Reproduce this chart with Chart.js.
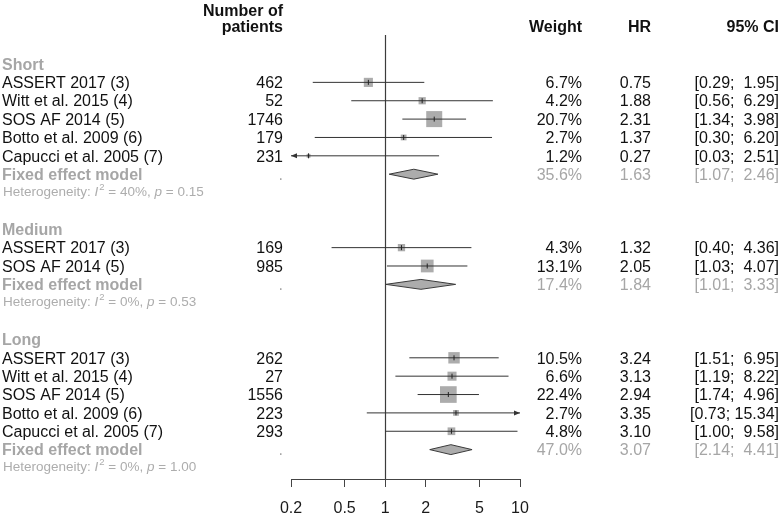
<!DOCTYPE html>
<html>
<head>
<meta charset="utf-8">
<script src="https://cdn.jsdelivr.net/npm/chart.js@4.4.1/dist/chart.umd.min.js"></script>
<style>
  html, body { margin: 0; padding: 0; background: #ffffff; }
  canvas { display: block; }
</style>
</head>
<body>
<canvas id="c" width="782" height="517"></canvas>
<script>
// ---------------- data ----------------
const groups = ['Short', 'Medium', 'Long'];
const studyNames = ['ASSERT 2017 (3)', 'Witt et al. 2015 (4)', 'SOS AF 2014 (5)', 'Botto et al. 2009 (6)', 'Capucci et al. 2005 (7)',
                    'ASSERT 2017 (3)', 'SOS AF 2014 (5)',
                    'ASSERT 2017 (3)', 'Witt et al. 2015 (4)', 'SOS AF 2014 (5)', 'Botto et al. 2009 (6)', 'Capucci et al. 2005 (7)'];
const studyGroup = [0, 0, 0, 0, 0, 1, 1, 2, 2, 2, 2, 2];
const patients = [462, 52, 1746, 179, 231, 169, 985, 262, 27, 1556, 223, 293];
const weights = [6.7, 4.2, 20.7, 2.7, 1.2, 4.3, 13.1, 10.5, 6.6, 22.4, 2.7, 4.8];
const hr = [0.75, 1.88, 2.31, 1.37, 0.27, 1.32, 2.05, 3.24, 3.13, 2.94, 3.35, 3.10];
const ciLow = [0.29, 0.56, 1.34, 0.30, 0.03, 0.40, 1.03, 1.51, 1.19, 1.74, 0.73, 1.00];
const ciHigh = [1.95, 6.29, 3.98, 6.20, 2.51, 4.36, 4.07, 6.95, 8.22, 4.96, 15.34, 9.58];
const pooledLabel = 'Fixed effect model';
const pooledWeight = [35.6, 17.4, 47.0];
const pooledHR = [1.63, 1.84, 3.07];
const pooledLow = [1.07, 1.01, 2.14];
const pooledHigh = [2.46, 3.33, 4.41];
const hetI2 = ['40%', '0%', '0%'];
const hetP = ['0.15', '0.53', '1.00'];
const xTicks = [0.2, 0.5, 1, 2, 5, 10];
const headers = { n: ['Number of', 'patients'], weight: 'Weight', hr: 'HR', ci: '95% CI' };

// ---------------- row layout ----------------
const groupRow = [], studyRow = [], pooledRow = [], hetRow = [];
let r = 0;
groups.forEach((g, gi) => {
  groupRow[gi] = r++;
  studyGroup.forEach((sg, si) => { if (sg === gi) studyRow[si] = r++; });
  pooledRow[gi] = r++;
  hetRow[gi] = r++;
  r++;
});

// ---------------- styles ----------------
const FONT = '"Liberation Sans", Arial, Helvetica, sans-serif';
const BLACK = '#111111';
const GREY = '#a6a6a6';
const HETGREY = '#adadad';
const BOXGREY = '#acacac';
const LINE = '#333333';
const DIAMOND_H = 0.27; // half-height in row units
const BOX_K = 3.52;     // px side per sqrt(weight)

const fmt2 = v => v.toFixed(2);
const padL = (s, n) => ' '.repeat(Math.max(0, n - s.length)) + s;
const ciText = (lo, hi) => '[' + fmt2(lo) + '; ' + padL(fmt2(hi), 5) + ']';

// ---------------- datasets ----------------
const datasets = [];
// CI lines
studyNames.forEach((nm, i) => {
  datasets.push({
    type: 'scatter', showLine: true, order: 1,
    data: [{ x: ciLow[i], y: studyRow[i] }, { x: ciHigh[i], y: studyRow[i] }],
    borderColor: LINE, borderWidth: 1, pointRadius: 0, fill: false
  });
});
// squares
datasets.push({
  type: 'scatter', order: 2,
  data: hr.map((v, i) => ({ x: v, y: studyRow[i] })),
  pointStyle: 'rect',
  pointRadius: weights.map(w => BOX_K * Math.sqrt(w) / (2 * Math.SQRT1_2)),
  backgroundColor: BOXGREY, borderWidth: 0
});
// estimate ticks
datasets.push({
  type: 'scatter', order: 0,
  data: hr.map((v, i) => ({ x: v, y: studyRow[i] })),
  pointStyle: 'line', rotation: 90, pointRadius: 2.5,
  borderColor: '#222222', borderWidth: 1
});
// diamonds
groups.forEach((g, gi) => {
  const y0 = pooledRow[gi];
  datasets.push({
    type: 'scatter', showLine: true, order: 0,
    data: [
      { x: pooledLow[gi], y: y0 },
      { x: pooledHR[gi], y: y0 - DIAMOND_H },
      { x: pooledHigh[gi], y: y0 },
      { x: pooledHR[gi], y: y0 + DIAMOND_H },
      { x: pooledLow[gi], y: y0 }
    ],
    borderColor: '#3a3a3a', borderWidth: 1, backgroundColor: BOXGREY,
    fill: 'shape', pointRadius: 0, tension: 0
  });
});

// ---------------- plugin: ref line, arrows, text ----------------
const forestPlugin = {
  id: 'forest',
  beforeDatasetsDraw(chart) {
    const { ctx, chartArea, scales: { x } } = chart;
    const px = Math.round(x.getPixelForValue(1)) + 0.5;
    ctx.save();
    ctx.strokeStyle = '#3c3c3c';
    ctx.lineWidth = 1.2;
    ctx.beginPath();
    ctx.moveTo(px, chartArea.top);
    ctx.lineTo(px, chartArea.bottom);
    ctx.stroke();
    ctx.restore();
  },
  afterDatasetsDraw(chart) {
    const { ctx, chartArea, scales: { x, y } } = chart;
    ctx.save();
    // arrows for truncated CIs
    ctx.fillStyle = LINE;
    studyNames.forEach((nm, i) => {
      const py = y.getPixelForValue(studyRow[i]);
      if (ciLow[i] < x.min) {
        const ax = chartArea.left;
        ctx.beginPath();
        ctx.moveTo(ax, py); ctx.lineTo(ax + 6, py - 2.5); ctx.lineTo(ax + 6, py + 2.5); ctx.closePath(); ctx.fill();
      }
      if (ciHigh[i] > x.max) {
        const ax = chartArea.right;
        ctx.beginPath();
        ctx.moveTo(ax, py); ctx.lineTo(ax - 6, py - 2.5); ctx.lineTo(ax - 6, py + 2.5); ctx.closePath(); ctx.fill();
      }
    });

    const colN = 283, colW = 582, colHR = 651, colCI = 779, colL = 2;
    const capOff = 5.7;
    const txt = (s, px, py, align, color, font) => {
      ctx.font = font; ctx.fillStyle = color; ctx.textAlign = align; ctx.textBaseline = 'alphabetic';
      ctx.fillText(s, px, py);
    };
    const reg = '16px ' + FONT, bold = 'bold 16px ' + FONT;

    // headers
    txt(headers.n[0], colN, 15.5, 'right', BLACK, bold);
    txt(headers.n[1], colN, 32, 'right', BLACK, bold);
    txt(headers.weight, colW, 32, 'right', BLACK, bold);
    txt(headers.hr, colHR, 32, 'right', BLACK, bold);
    txt(headers.ci, colCI, 32, 'right', BLACK, bold);

    groups.forEach((g, gi) => {
      txt(g, colL, y.getPixelForValue(groupRow[gi]) + capOff, 'left', GREY, bold);
      const py = y.getPixelForValue(pooledRow[gi]) + capOff;
      txt(pooledLabel, colL, py, 'left', GREY, bold);
      txt('.', colN, py, 'right', GREY, reg);
      txt(pooledWeight[gi].toFixed(1) + '%', colW, py, 'right', GREY, reg);
      txt(fmt2(pooledHR[gi]), colHR, py, 'right', GREY, reg);
      txt(ciText(pooledLow[gi], pooledHigh[gi]), colCI, py, 'right', GREY, reg);

      // heterogeneity
      const hy = y.getPixelForValue(hetRow[gi]) + 3;
      let hx = colL + 1;
      const small = '13.5px ' + FONT, ital = 'italic 13.5px ' + FONT, sup = '9.5px ' + FONT;
      const part = (s, f, dy) => { txt(s, hx, hy + (dy || 0), 'left', HETGREY, f); hx += ctx.measureText(s).width; };
      part('Heterogeneity: ', small);
      part('I', ital);
      hx += 1;
      part('2', sup, -5.5);
      part(' = ' + hetI2[gi] + ', ', small);
      part('p', ital);
      part(' = ' + hetP[gi], small);
    });

    studyNames.forEach((nm, i) => {
      const py = y.getPixelForValue(studyRow[i]) + capOff;
      txt(nm, colL, py, 'left', BLACK, reg);
      txt(String(patients[i]), colN, py, 'right', BLACK, reg);
      txt(weights[i].toFixed(1) + '%', colW, py, 'right', BLACK, reg);
      txt(fmt2(hr[i]), colHR, py, 'right', BLACK, reg);
      txt(ciText(ciLow[i], ciHigh[i]), colCI, py, 'right', BLACK, reg);
    });
    ctx.restore();
  }
};

new Chart(document.getElementById('c'), {
  type: 'scatter',
  data: { datasets },
  options: {
    responsive: false,
    devicePixelRatio: 1,
    animation: false,
    events: [],
    layout: { padding: { left: 291, right: 262, top: 35, bottom: 0 } },
    plugins: { legend: { display: false }, tooltip: { enabled: false } },
    scales: {
      x: {
        type: 'logarithmic', position: 'bottom', min: xTicks[0], max: xTicks[xTicks.length - 1],
        afterBuildTicks: (scale) => { scale.ticks = xTicks.map(v => ({ value: v })); },
        afterFit: (scale) => { scale.height = 38; },
        ticks: {
          autoSkip: false, maxRotation: 0, padding: 12, color: '#1a1a1a',
          font: { family: FONT, size: 16 },
          callback: (v) => String(v)
        },
        grid: { drawOnChartArea: false, drawTicks: true, tickLength: 8, color: '#444444', lineWidth: 1 },
        border: { display: true, color: '#444444', width: 1 }
      },
      y: {
        type: 'linear', reverse: true, min: -1.58, max: 22.6, display: false
      }
    }
  },
  plugins: [forestPlugin]
});
</script>
</body>
</html>
